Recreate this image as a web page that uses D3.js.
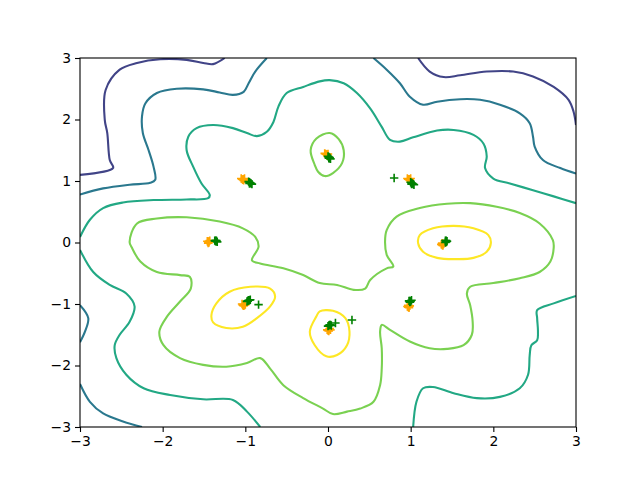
<!DOCTYPE html>
<html lang="en">
  <head>
    <meta charset="UTF-8" />
    <title>Density contours</title>
    <script src="https://cdn.jsdelivr.net/npm/d3@7"></script>
    <style>
      body { margin: 0; background: #fff; }
      svg { display: block; }
    </style>
  </head>
  <body>
    <div id='app'></div>
    <script>
  // tick labels on both axes
  const ticks = [-3, -2, -1, 0, 1, 2, 3]

  // contour polylines, one array per level, [x, y] in data units
  const purpleLines = [
    [[-3.0, 1.10], [-2.60, 1.21], [-2.64, 1.34], [-2.67, 1.78], [-2.70, 1.99], [-2.69, 2.48], [-2.52, 2.81], [-2.31, 2.92], [-2.03, 2.98], [-1.71, 2.97], [-1.51, 2.92], [-1.39, 2.90], [-1.25, 3.0]],
    [[1.09, 3.0], [1.23, 2.78], [1.40, 2.69], [1.60, 2.72], [1.92, 2.78], [2.24, 2.78], [2.48, 2.70], [2.73, 2.53], [2.91, 2.32], [2.97, 2.13], [3.0, 1.91]]
  ]
  const tealLines = [
    [[-3.0, 0.78], [-2.72, 0.88], [-2.40, 0.94], [-2.15, 0.97], [-2.09, 1.02], [-2.11, 1.23], [-2.17, 1.50], [-2.24, 1.78], [-2.25, 2.05], [-2.21, 2.26], [-2.07, 2.43], [-1.83, 2.50], [-1.51, 2.49], [-1.31, 2.44], [-1.15, 2.40], [-1.02, 2.45], [-0.96, 2.59], [-0.88, 2.78], [-0.74, 3.0]],
    [[0.55, 3.0], [0.71, 2.81], [0.87, 2.59], [0.99, 2.37], [1.15, 2.24], [1.32, 2.29], [1.60, 2.33], [1.84, 2.32], [2.08, 2.24], [2.32, 2.10], [2.44, 1.94], [2.48, 1.72], [2.50, 1.56], [2.60, 1.34], [2.81, 1.21], [3.0, 1.12]],
    [[-3.0, -1.02], [-2.90, -1.23], [-2.94, -1.45], [-3.0, -1.62]],
    [[-3.0, -2.30], [-2.88, -2.59], [-2.72, -2.78], [-2.48, -2.91], [-2.25, -3.0]]
  ]
  const greenLines = [
    [[-3.0, 0.09], [-2.88, 0.37], [-2.72, 0.56], [-2.48, 0.65], [-2.11, 0.69], [-1.71, 0.70], [-1.45, 0.72], [-1.43, 0.77], [-1.53, 0.96], [-1.63, 1.23], [-1.71, 1.50], [-1.69, 1.72], [-1.59, 1.86], [-1.39, 1.91], [-1.15, 1.86], [-0.98, 1.78], [-0.86, 1.73], [-0.74, 1.80], [-0.66, 1.96], [-0.60, 2.21], [-0.50, 2.43], [-0.30, 2.53], [-0.10, 2.62], [0.02, 2.64], [0.19, 2.59], [0.35, 2.43], [0.51, 2.18], [0.65, 1.88], [0.75, 1.67], [0.87, 1.64], [1.03, 1.71], [1.32, 1.82], [1.52, 1.83], [1.76, 1.75], [1.88, 1.61], [1.92, 1.40], [1.90, 1.21], [2.0, 1.04], [2.20, 0.96], [2.48, 0.85], [2.73, 0.75], [3.0, 0.64]],
    [[-3.0, -0.12], [-2.84, -0.48], [-2.64, -0.69], [-2.44, -0.83], [-2.34, -1.04], [-2.40, -1.29], [-2.52, -1.50], [-2.58, -1.67], [-2.56, -1.88], [-2.44, -2.15], [-2.23, -2.37], [-1.91, -2.48], [-1.51, -2.55], [-1.15, -2.56], [-0.98, -2.75], [-0.82, -3.0]],
    [[1.03, -3.0], [1.07, -2.59], [1.15, -2.37], [1.27, -2.35], [1.52, -2.45], [1.80, -2.53], [2.08, -2.51], [2.32, -2.37], [2.42, -2.15], [2.44, -1.83], [2.46, -1.67], [2.53, -1.59], [2.54, -1.45], [2.53, -1.23], [2.53, -1.10], [2.73, -0.99], [3.0, -0.87]]
  ]
  // closed rings
  const lightRings = [
    [[0.02, 1.78], [0.13, 1.68], [0.19, 1.50], [0.17, 1.29], [0.06, 1.13], [-0.04, 1.08], [-0.12, 1.15], [-0.16, 1.26], [-0.21, 1.50], [-0.14, 1.69]],
    [[-0.84, -0.07], [-0.88, 0.09], [-1.03, 0.23], [-1.31, 0.34], [-1.71, 0.41], [-2.07, 0.39], [-2.31, 0.31], [-2.40, 0.01], [-2.37, -0.09], [-2.27, -0.31], [-2.07, -0.48], [-1.79, -0.53], [-1.67, -0.56], [-1.66, -0.75], [-1.79, -0.96], [-1.95, -1.21], [-2.04, -1.45], [-1.99, -1.67], [-1.79, -1.88], [-1.51, -1.99], [-1.23, -2.02], [-0.98, -1.96], [-0.82, -1.88], [-0.70, -2.05], [-0.54, -2.32], [-0.30, -2.53], [-0.06, -2.70], [0.06, -2.79], [0.23, -2.75], [0.39, -2.70], [0.55, -2.59], [0.63, -2.32], [0.65, -2.05], [0.65, -1.72], [0.63, -1.45], [0.65, -1.34], [0.75, -1.42], [0.99, -1.61], [1.23, -1.72], [1.44, -1.73], [1.64, -1.67], [1.74, -1.50], [1.75, -1.29], [1.72, -1.02], [1.68, -0.83], [1.72, -0.72], [2.0, -0.66], [2.32, -0.58], [2.56, -0.48], [2.69, -0.31], [2.73, -0.09], [2.72, 0.04], [2.56, 0.31], [2.32, 0.48], [2.04, 0.58], [1.72, 0.64], [1.44, 0.63], [1.11, 0.56], [0.83, 0.42], [0.71, 0.20], [0.69, 0.01], [0.71, -0.20], [0.79, -0.39], [0.71, -0.42], [0.51, -0.61], [0.45, -0.75], [0.31, -0.77], [0.11, -0.69], [-0.10, -0.66], [-0.30, -0.53], [-0.54, -0.42], [-0.82, -0.34], [-0.92, -0.29]]
  ]
  const yellowRings = [
    [[1.09, -0.01], [1.11, 0.12], [1.27, 0.23], [1.52, 0.27], [1.76, 0.23], [1.94, 0.12], [1.97, -0.01], [1.92, -0.15], [1.76, -0.25], [1.56, -0.27], [1.32, -0.25], [1.15, -0.15]],
    [[-1.41, -1.18], [-1.35, -0.99], [-1.19, -0.80], [-0.94, -0.72], [-0.70, -0.75], [-0.64, -0.88], [-0.70, -1.04], [-0.86, -1.23], [-1.03, -1.37], [-1.23, -1.39], [-1.39, -1.30]],
    [[-0.10, -1.12], [0.06, -1.11], [0.21, -1.23], [0.26, -1.45], [0.23, -1.67], [0.11, -1.83], [-0.02, -1.85], [-0.16, -1.67], [-0.22, -1.45], [-0.14, -1.20]]
  ]

  // real samples (orange) and generated samples (green)
  const realPoints = [
    [-1.05, 1.04], [-1.03, 1.02], [-1.01, 1.04], [-1.02, 1.01], [-1.04, 1.03], [-1.02, 1.03],
    [-0.04, 1.45], [-0.02, 1.43], [0.0, 1.44], [-0.01, 1.41], [-0.03, 1.44], [-0.01, 1.43],
    [0.96, 1.04], [0.98, 1.02], [1.00, 1.04], [0.99, 1.01], [0.97, 1.03], [0.99, 1.03],
    [-1.46, 0.02], [-1.44, 0.0], [-1.43, 0.03], [-1.45, -0.01], [-1.45, 0.01], [-1.44, 0.02],
    [1.37, -0.03], [1.39, -0.05], [1.40, -0.02], [1.38, -0.01], [1.38, -0.04], [1.39, -0.03],
    [-1.04, -1.00], [-1.02, -1.03], [-1.00, -1.01], [-1.03, -1.02], [-1.03, -1.01], [-1.01, -1.02],
    [-0.01, -1.42], [0.01, -1.44], [0.03, -1.42], [0.02, -1.40], [0.0, -1.43], [0.02, -1.41],
    [0.96, -1.04], [0.98, -1.06], [0.99, -1.03], [0.97, -1.02], [0.97, -1.05], [0.98, -1.04]
  ]
  const fakePoints = [
    [-0.96, 0.99], [-0.94, 0.97], [-0.92, 0.95], [-0.95, 0.96], [-0.95, 0.98], [-0.93, 0.96],
    [0.0, 1.40], [0.02, 1.38], [0.03, 1.36], [0.01, 1.37], [0.01, 1.39], [0.02, 1.37],
    [1.00, 0.98], [1.02, 0.96], [1.04, 0.94], [1.01, 0.95], [1.01, 0.97], [1.03, 0.95],
    [-1.37, 0.03], [-1.35, 0.02], [-1.34, 0.01], [-1.36, 0.03], [-1.36, 0.02], [-1.35, 0.03],
    [1.42, 0.03], [1.43, 0.01], [1.44, 0.02], [1.42, 0.0], [1.43, 0.02], [1.43, 0.03],
    [-0.98, -0.96], [-0.96, -0.94], [-0.94, -0.93], [-0.97, -0.95], [-0.97, -0.95], [-0.95, -0.94],
    [0.0, -1.36], [0.02, -1.34], [0.04, -1.35], [0.09, -1.31], [0.01, -1.35], [0.03, -1.34],
    [0.98, -0.95], [0.99, -0.97], [1.01, -0.94], [0.99, -0.96], [0.99, -0.95], [1.00, -0.96],
    [0.80, 1.05], [-0.84, -1.01], [0.29, -1.26]
  ]

  const levelColors = ['#414487', '#2a788e', '#22a884', '#7ad151', '#fde725']
  const levels = [
    { lines: purpleLines, closed: false },
    { lines: tealLines, closed: false },
    { lines: greenLines, closed: false },
    { lines: lightRings, closed: true },
    { lines: yellowRings, closed: true }
  ]

  const width = 640
  const height = 480
  const margin = { top: 58, right: 64, bottom: 53, left: 80 }

  const x = d3.scaleLinear().domain([-3, 3]).range([margin.left, width - margin.right])
  const y = d3.scaleLinear().domain([-3, 3]).range([height - margin.bottom, margin.top])

  const svg = d3.select('#app').append('svg')
    .attr('width', width)
    .attr('height', height)
    .style('font-family', 'DejaVu Sans, sans-serif')

  svg.append('clipPath').attr('id', 'plot-clip')
    .append('rect')
    .attr('x', x(-3)).attr('y', y(3))
    .attr('width', x(3) - x(-3)).attr('height', y(-3) - y(3))

  const plot = svg.append('g').attr('clip-path', 'url(#plot-clip)')

  // contour lines
  levels.forEach((lv, i) => {
    const line = d3.line()
      .x(d => x(d[0]))
      .y(d => y(d[1]))
      .curve(lv.closed ? d3.curveCatmullRomClosed.alpha(0.5) : d3.curveCatmullRom.alpha(0.5))
    plot.append('g')
      .selectAll('path')
      .data(lv.lines)
      .join('path')
      .attr('d', line)
      .attr('fill', 'none')
      .attr('stroke', levelColors[i])
      .attr('stroke-width', 2.1)
      .attr('stroke-linejoin', 'round')
  })

  // plus markers
  const cross = 'M-4.2,0H4.2M0,-4.2V4.2'
  function drawMarkers(data, color) {
    plot.append('g')
      .selectAll('path')
      .data(data)
      .join('path')
      .attr('d', cross)
      .attr('transform', d => `translate(${x(d[0])},${y(d[1])})`)
      .attr('stroke', color)
      .attr('stroke-width', 1.6)
      .attr('fill', 'none')
  }
  drawMarkers(realPoints, 'orange')
  drawMarkers(fakePoints, 'green')

  // axes
  const xAxis = svg.append('g')
    .attr('transform', `translate(0,${y(-3)})`)
    .call(d3.axisBottom(x).tickValues(ticks).tickFormat(d3.format('d')).tickSize(5).tickSizeOuter(0).tickPadding(4))
  const yAxis = svg.append('g')
    .attr('transform', `translate(${x(-3)},0)`)
    .call(d3.axisLeft(y).tickValues(ticks).tickFormat(d3.format('d')).tickSize(5).tickSizeOuter(0).tickPadding(4))

  ;[xAxis, yAxis].forEach(g => {
    g.select('.domain').remove()
    g.selectAll('.tick line').attr('stroke', '#000').attr('stroke-width', 1.1)
    g.selectAll('.tick text')
      .attr('fill', '#000')
      .style('font-size', '13.9px')
      .style('font-family', 'DejaVu Sans, sans-serif')
  })

  // frame
  svg.append('rect')
    .attr('x', x(-3)).attr('y', y(3))
    .attr('width', x(3) - x(-3)).attr('height', y(-3) - y(3))
    .attr('fill', 'none')
    .attr('stroke', '#000')
    .attr('stroke-width', 1.1)
    </script>
  </body>
</html>
